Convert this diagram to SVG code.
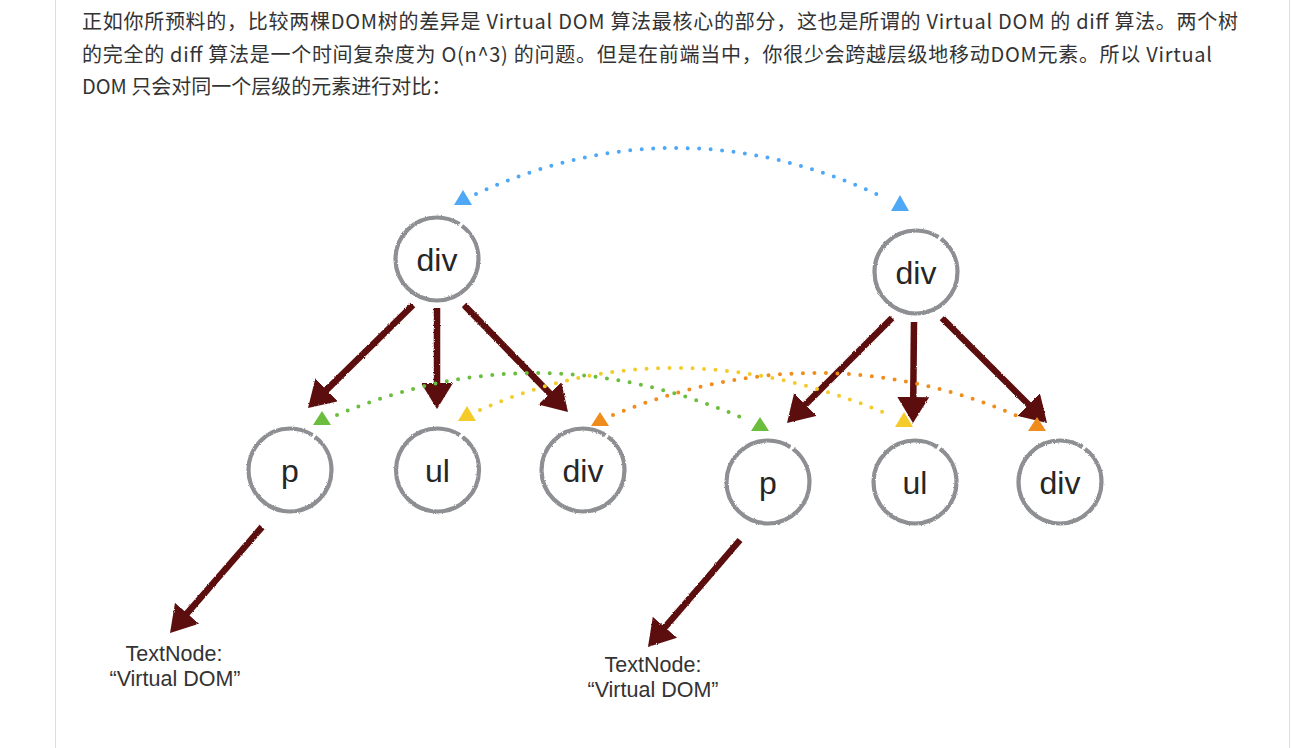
<svg xmlns="http://www.w3.org/2000/svg" width="1306" height="748" viewBox="0 0 1306 748">
<style>
.para{font-family:"Noto Sans CJK SC","Liberation Sans",sans-serif;font-size:20px;fill:#333}
.node circle{fill:#fff;stroke:#8d8f93;stroke-width:4.2;stroke-dasharray:219 3 60}
.node text{font-family:"Liberation Sans",Arial,sans-serif;font-size:32px;fill:#262626;text-anchor:middle}
.tn{font-family:"Liberation Sans",Arial,sans-serif;font-size:21.5px;fill:#333;text-anchor:middle}
.edge{stroke:#5b0b0b;stroke-width:6.5;fill:none;marker-end:url(#head)}
.dot{fill:none;stroke-width:4;stroke-linecap:round;stroke-dasharray:0 11.5}
.blue{stroke:#4fa8f6}.green{stroke:#6bbd3d}.yellow{stroke:#f4cb2b}.orange{stroke:#f08c1c}
.tb{fill:#4fa8f6}.tg{fill:#6bbd3d}.ty{fill:#f4cb2b}.to{fill:#f08c1c}
</style>
<defs>
<filter id="rough" x="-10%" y="-10%" width="120%" height="120%">
<feTurbulence type="fractalNoise" baseFrequency="1.1" numOctaves="1" seed="3" result="n"/>
<feDisplacementMap in="SourceGraphic" in2="n" scale="2.5" xChannelSelector="R" yChannelSelector="G"/>
</filter>
<marker id="head" markerUnits="userSpaceOnUse" viewBox="0 0 26 32" refX="14" refY="16" markerWidth="26" markerHeight="32" orient="auto">
<path d="M0,0 L26,16 L0,32 Z" fill="#5b0b0b"/>
</marker>
</defs>
<rect width="1306" height="748" fill="#fff"/>
<line x1="55.5" y1="0" x2="55.5" y2="748" stroke="#dcdce3" stroke-width="1"/>
<line x1="1289.5" y1="0" x2="1289.5" y2="748" stroke="#dcdce3" stroke-width="1"/>
<g id="paragraph">
<text class="para" x="82" y="29" textLength="1156" lengthAdjust="spacing">正如你所预料的，比较两棵DOM树的差异是 Virtual DOM 算法最核心的部分，这也是所谓的 Virtual DOM 的 diff 算法。两个树</text>
<text class="para" x="82" y="61.5" textLength="1130" lengthAdjust="spacing">的完全的 diff 算法是一个时间复杂度为 O(n^3) 的问题。但是在前端当中，你很少会跨越层级地移动DOM元素。所以 Virtual</text>
<text class="para" x="82" y="94">DOM 只会对同一个层级的元素进行对比：</text>
</g>
<g id="connectors">
<g filter="url(#rough)">
<line class="edge" x1="413" y1="305" x2="316.6" y2="399.6"/>
<line class="edge" x1="437" y1="308" x2="437" y2="397"/>
<line class="edge" x1="464" y1="305" x2="559.6" y2="403.4"/>
<line class="edge" x1="892" y1="318" x2="795.5" y2="414.5"/>
<line class="edge" x1="914" y1="322" x2="913.1" y2="411"/>
<line class="edge" x1="942" y1="318" x2="1038.5" y2="414.5"/>
<line class="edge" x1="262" y1="527" x2="177.9" y2="623.9"/>
<line class="edge" x1="740" y1="540" x2="655.8" y2="637.9"/>
</g>
<path class="dot blue" d="M476,194 Q679.5,100 885,198"/>
<polygon class="tb" points="463,190 454,205 472,205"/>
<polygon class="tb" points="900,195 891,211 909,211"/>
<path class="dot green" d="M337,415 Q539,329 745,419"/>
<polygon class="tg" points="322,411 313,425 331,425"/>
<polygon class="tg" points="760,417 751,431 769,431"/>
<path class="dot yellow" d="M480,410 Q675,323.5 890,415"/>
<polygon class="ty" points="467,406 458,421 476,421"/>
<polygon class="ty" points="904,412 895,427 913,427"/>
<path class="dot orange" d="M613,415 Q822.5,329.5 1022,418"/>
<polygon class="to" points="600,412 591,426 609,426"/>
<polygon class="to" points="1037,417 1028,431 1046,431"/>
</g>
<g id="node-div-a" class="node"><circle filter="url(#rough)" cx="437" cy="259" r="41.5"/><text x="437" y="271">div</text></g>
<g id="node-div-b" class="node"><circle filter="url(#rough)" cx="916" cy="272" r="41.5"/><text x="916" y="284">div</text></g>
<g id="node-p-a" class="node"><circle filter="url(#rough)" cx="290" cy="470" r="41.5"/><text x="290" y="482">p</text></g>
<g id="node-ul-a" class="node"><circle filter="url(#rough)" cx="437.5" cy="470" r="41.5"/><text x="437.5" y="482">ul</text></g>
<g id="node-div-a2" class="node"><circle filter="url(#rough)" cx="583" cy="470" r="41.5"/><text x="583" y="482">div</text></g>
<g id="node-p-b" class="node"><circle filter="url(#rough)" cx="768" cy="482" r="41.5"/><text x="768" y="494">p</text></g>
<g id="node-ul-b" class="node"><circle filter="url(#rough)" cx="915" cy="482" r="41.5"/><text x="915" y="494">ul</text></g>
<g id="node-div-b2" class="node"><circle filter="url(#rough)" cx="1060" cy="482" r="41.5"/><text x="1060" y="494">div</text></g>
<g id="node-text-a"><text class="tn" x="174" y="661">TextNode:</text><text class="tn" x="175" y="686">“Virtual DOM”</text></g>
<g id="node-text-b"><text class="tn" x="653" y="672">TextNode:</text><text class="tn" x="653" y="697">“Virtual DOM”</text></g>
</svg>
